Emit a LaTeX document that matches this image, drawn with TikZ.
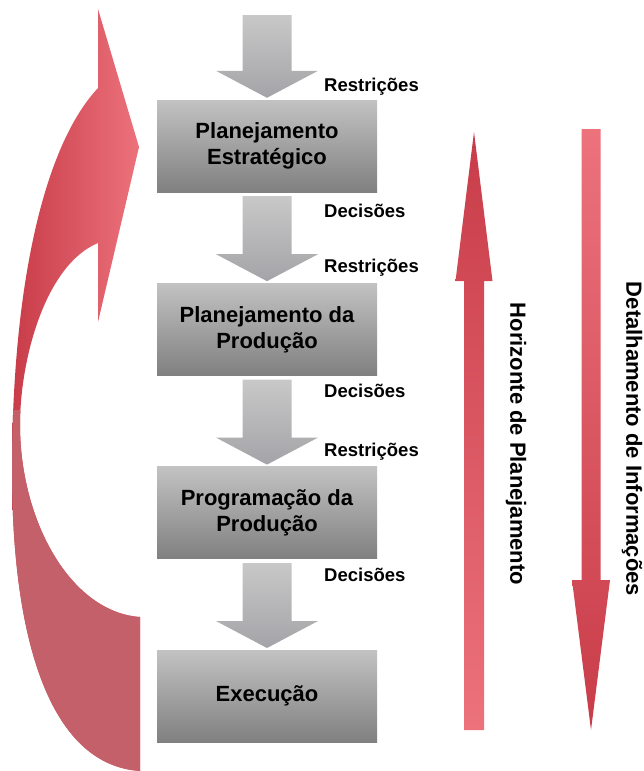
\documentclass[tikz,border=0pt]{standalone}
\usepackage{fontspec}
\setmainfont{Liberation Sans}
\usepackage{tikz}
\usetikzlibrary{positioning,calc}

\definecolor{cinzaclaro}{RGB}{194,194,194}
\definecolor{cinzaescuro}{RGB}{128,128,128}
\definecolor{cinzaseta}{RGB}{200,200,200}
\definecolor{cinzasetab}{RGB}{164,164,168}
\definecolor{vermelho}{RGB}{200,60,72}
\definecolor{rosa}{RGB}{236,114,124}
\definecolor{rosaescuro}{RGB}{196,96,106}

\tikzset {
    style box/.style={
        top color=cinzaclaro,
        bottom color=cinzaescuro,
        draw=none,
        rectangle, % caixa de cada nivel
        minimum width=220pt,
        minimum height=92pt,
        inner sep=0pt,
        align=center,
        font=\fontsize{22}{26}\selectfont\bfseries,
    },
    style label/.style={
        anchor=west,
        inner sep=0pt,
        font=\fontsize{18.5}{21}\selectfont\bfseries,
    },
    style side/.style={
        rotate=-90,
        inner sep=0pt,
        font=\fontsize{22}{25}\selectfont\bfseries,
    },
    style grey/.style={top color=cinzaseta, bottom color=cinzasetab},
    style up/.style={top color=vermelho, bottom color=rosa},
    style down/.style={top color=rosa, bottom color=vermelho},
}

% seta de bloco: estilo, origem, destino, meia haste, meia ponta, comprimento da ponta
\newcommand{\blocoseta}[6]{%
    \coordinate (sa) at ($(#2)!4pt!(#3)$);
    \coordinate (sb) at ($(#3)!2pt!(#2)$);
    \coordinate (hb) at ($(sb)!#6!(sa)$);
    \shade[#1] ($(sa)!#4!90:(sb)$) -- ($(hb)!#4!90:(sb)$) -- ($(hb)!#5!90:(sb)$) -- (sb)
        -- ($(hb)!#5!-90:(sb)$) -- ($(hb)!#4!-90:(sb)$) -- ($(sa)!#4!-90:(sb)$) -- cycle;
}

\newcommand{\caminhocurvo}{(98,9) -- (139,147) -- (98,322) -- (98,243)
    .. controls (45,265) and (20,360) .. (20,425)
    .. controls (20,520) and (70,612) .. (140,617) -- (140,771)
    .. controls (50,765) and (12,640) .. (12,470)
    .. controls (12,300) and (40,150) .. (98,88) -- cycle}

\begin{document}
\begin{tikzpicture}
        [x=1pt, y=-1pt]

        \useasboundingbox (0,0) rectangle (644,771);

        % seta curva da esquerda
        \shade[left color=vermelho, right color=rosa] \caminhocurvo;
        \begin{scope}
            \clip (0,410) rectangle (150,771);
            \fill[rosaescuro] \caminhocurvo;
        \end{scope}

        \node[style box] (pe) at (267,146) {Planejamento\\Estratégico};
        \node[style box] (pp) [below=91pt of pe] {Planejamento da\\Produção};
        \node[style box] (pr) [below=91pt of pp] {Programação da\\Produção};
        \node[style box] (ex) [below=91pt of pr] {Execução};

        \coordinate (topo) at (267,11);
        \blocoseta{style grey}{topo}{pe.north}{24.5pt}{51pt}{27pt}
        \blocoseta{style grey}{pe.south}{pp.north}{24.5pt}{51pt}{27pt}
        \blocoseta{style grey}{pp.south}{pr.north}{24.5pt}{51pt}{27pt}
        \blocoseta{style grey}{pr.south}{ex.north}{24.5pt}{51pt}{27pt}

        \node[style label] (r1) at (324,87)  {Restrições};
        \node[style label] (d1) at (324,211) {Decisões};
        \node[style label] (r2) at (324,268) {Restrições};
        \node[style label] (d2) at (324,391) {Decisões};
        \node[style label] (r3) at (324,452) {Restrições};
        \node[style label] (d3) at (324,575) {Decisões};

        % setas da direita
        \coordinate (hz1) at (474,734);
        \coordinate (hz2) at (474,130);
        \blocoseta{style up}{hz1}{hz2}{10pt}{18.5pt}{149pt}
        \coordinate (di1) at (591,125);
        \coordinate (di2) at (591,732);
        \blocoseta{style down}{di1}{di2}{9.5pt}{19pt}{150pt}

        \node[style side] (hp) at (516,444) {Horizonte de Planejamento};
        \node[style side] (di) at (632,439) {Detalhamento de Informações};
    \end{tikzpicture}
\end{document}
